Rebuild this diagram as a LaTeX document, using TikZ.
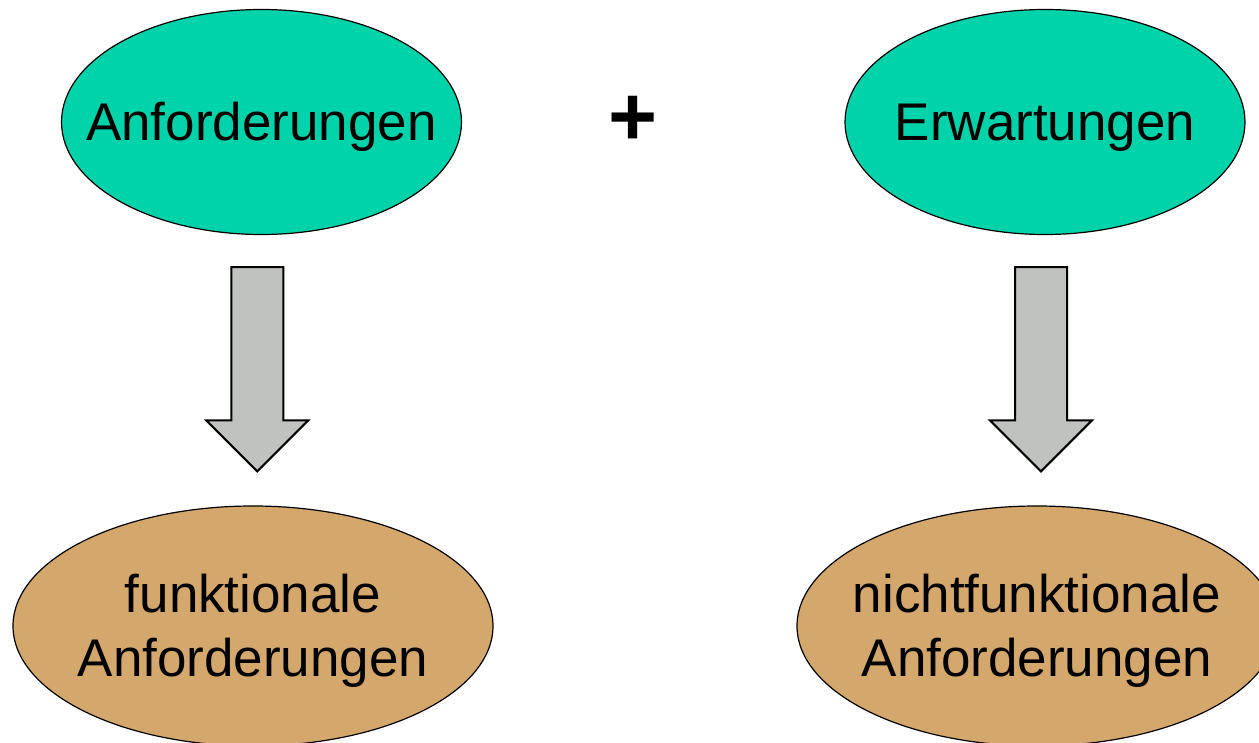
\documentclass[tikz,border=0pt]{standalone}
\usepackage{fontspec}
\setmainfont{Liberation Sans}
\usetikzlibrary{shapes.geometric, calc}
\definecolor{anfgreen}{RGB}{0,210,170}
\definecolor{anftan}{RGB}{212,167,108}
\definecolor{anfgray}{RGB}{192,194,192}
\newcommand{\ovaltext}[1]{\makebox[0pt]{\raisebox{-2.8pt}[\height][\depth]{\begin{tabular}{@{}c@{}}#1\end{tabular}}}}

\begin{document}
\begin{tikzpicture}[x = 0.5pt, y = -0.5pt,
    topoval/.style={draw,ellipse,fill=anfgreen,line width=0.6pt,inner sep=0pt,minimum width=200pt,minimum height=112.5pt},
    bottomoval/.style={draw,ellipse,fill=anftan,line width=0.6pt,inner sep=0pt,minimum width=240pt,minimum height=120pt},
    blockarrow/.style={draw,fill=anfgray,line width=1pt,line join=miter}]
    \useasboundingbox (0,0) rectangle (1259,743);
    \fontsize{26.5}{32}\selectfont
    \node[topoval] (anf) at (261.5,122) {\ovaltext{Anforderungen}};
    \node[topoval] (erw) at (1045,122) {\ovaltext{Erwartungen}};
    \node[bottomoval] (fa) at (253,626) {\ovaltext{funktionale\\Anforderungen}};
    \node[bottomoval] (nfa) at (1037,626) {\ovaltext{nichtfunktionale\\Anforderungen}};
    \node (plus) at (633,121) {\fontsize{42}{42}\selectfont\bfseries +};
    % block arrows between the ovals
    \foreach \a/\b in {anf/fa, erw/nfa}
        \draw[blockarrow] let \p1=(\a.south), \p2=(\b.north), \n1={(\x1+\x2)/2} in
            (\n1-13pt,\y1-16pt) -- (\n1+13pt,\y1-16pt) -- (\n1+13pt,\y2+42.5pt) -- (\n1+25.5pt,\y2+42.5pt)
            -- (\n1,\y2+17pt) -- (\n1-25.5pt,\y2+42.5pt) -- (\n1-13pt,\y2+42.5pt) -- cycle;
\end{tikzpicture}
\end{document}
